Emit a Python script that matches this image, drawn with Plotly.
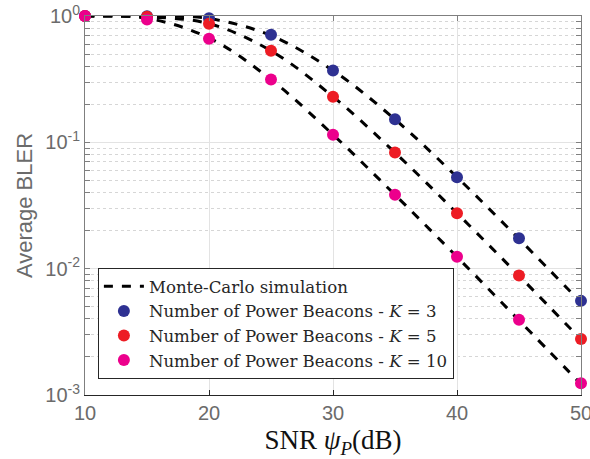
import plotly.graph_objects as go

snr = [10, 15, 20, 25, 30, 35, 40, 45, 50]

# simulated markers
bler_k3 = [1.0, 0.995, 0.96, 0.71, 0.37, 0.152, 0.053, 0.0174, 0.00556]
bler_k5 = [1.0, 0.985, 0.87, 0.53, 0.23, 0.083, 0.0275, 0.00883, 0.00278]
bler_k10 = [1.0, 0.94, 0.66, 0.314, 0.115, 0.0384, 0.0124, 0.00394, 0.00124]

# Monte-Carlo (dashed) curves
mc_k3 = [1.0, 0.995, 0.955, 0.70, 0.37, 0.152, 0.053, 0.0172, 0.0054]
mc_k5 = [1.0, 0.985, 0.87, 0.53, 0.23, 0.083, 0.0275, 0.0088, 0.00275]
mc_k10 = [1.0, 0.96, 0.67, 0.314, 0.115, 0.0384, 0.0124, 0.0039, 0.00122]

labels = ["Number of Power Beacons - <i>K</i> = 3",
          "Number of Power Beacons - <i>K</i> = 5",
          "Number of Power Beacons - <i>K</i> = 10"]
colors = ["#2E3192", "#ED1C24", "#EC008C"]

ytickvals = [1e-3, 1e-2, 1e-1, 1]
yticktext = ["10<sup>-3</sup>", "10<sup>-2</sup>", "10<sup>-1</sup>", "10<sup>0</sup>"]
xtickvals = [10, 20, 30, 40, 50]

minor_y = [m * 10 ** e for e in (-3, -2, -1) for m in range(2, 10)]

fig = go.Figure()

for i, mc in enumerate([mc_k3, mc_k5, mc_k10]):
    fig.add_trace(go.Scatter(
        x=snr, y=mc, mode="lines", line=dict(color="black", width=3, dash="dash", shape="spline"),
        name="Monte-Carlo simulation", showlegend=(i == 0), legendrank=1, cliponaxis=True))

for data, lab, col in zip([bler_k3, bler_k5, bler_k10], labels, colors):
    fig.add_trace(go.Scatter(
        x=snr, y=data, mode="markers", marker=dict(color=col, size=12, symbol="circle"),
        name=lab, cliponaxis=False, legendrank=2))

gray = "#6b6b6b"
fig.update_layout(
    width=590, height=459,
    margin=dict(l=85, r=9, t=16, b=64, autoexpand=False),
    paper_bgcolor="white", plot_bgcolor="white",
    font=dict(family="Liberation Sans, Arial", size=20, color=gray),
    showlegend=True,
    legend=dict(x=0.026, y=0.042, xanchor="left", yanchor="bottom",
                bgcolor="white", bordercolor="#262626", borderwidth=1,
                font=dict(family="DejaVu Serif, Liberation Serif", size=16.6, color="#262626"),
                tracegroupgap=0, itemwidth=40),
    xaxis=dict(range=[10, 50], tickvals=xtickvals, ticks="inside", ticklen=5,
               tickcolor="#262626", showline=True, linecolor="#262626", linewidth=1,
               showgrid=True, gridcolor="#e3e3e3", gridwidth=1, zeroline=False,
               automargin=False, ticklabeloverflow="allow",
               tickfont=dict(size=20, color=gray),
               title=dict(text="SNR <i>ψ</i><sub><i>P</i></sub>(dB)", standoff=7,
                          font=dict(family="Liberation Serif, Times New Roman", size=27, color="#111111"))),
    xaxis2=dict(range=[10, 50], overlaying="x", side="top", tickvals=xtickvals,
                ticks="inside", ticklen=5, tickcolor="#7f7f7f", showline=True,
                linecolor="#7f7f7f", showticklabels=False, showgrid=False, zeroline=False,
                automargin=False),
    yaxis=dict(type="log", range=[-3, 0], tickvals=ytickvals, ticktext=yticktext,
               ticks="inside", ticklen=5, tickcolor="#7f7f7f",
               showline=True, linecolor="#7f7f7f", linewidth=1, mirror="allticks",
               showgrid=True, gridcolor="#e3e3e3", gridwidth=1, zeroline=False,
               automargin=False, ticklabeloverflow="allow",
               tickfont=dict(size=20, color=gray),
               minor=dict(tickmode="array", tickvals=minor_y, ticks="inside", ticklen=3,
                          tickcolor="#7f7f7f", showgrid=True, gridcolor="#d6d6d6",
                          griddash="dot", gridwidth=1),
               title=dict(text="Average BLER", standoff=6,
                          font=dict(family="Liberation Sans, Arial", size=22, color=gray))),
)
# dummy trace for top axis
fig.add_trace(go.Scatter(x=[10], y=[1], xaxis="x2", mode="markers",
                         marker=dict(opacity=0), showlegend=False, hoverinfo="skip"))

fig.write_html("out.html", config={"displayModeBar": False},
               post_script="document.body.style.margin='0';document.body.style.overflow='hidden';")
